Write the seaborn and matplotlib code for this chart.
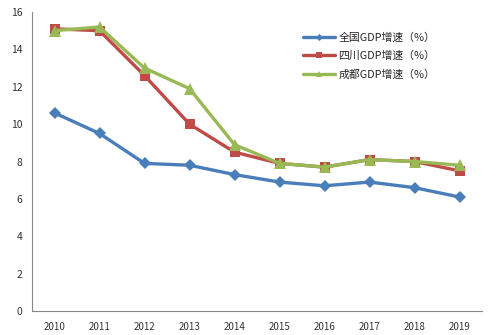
import matplotlib
matplotlib.use("Agg")
import matplotlib.pyplot as plt
import seaborn as sns
import pandas as pd
import numpy as np

years = ["2010", "2011", "2012", "2013", "2014", "2015", "2016", "2017", "2018", "2019"]
national = [10.6, 9.5, 7.9, 7.8, 7.3, 6.9, 6.7, 6.9, 6.6, 6.1]
sichuan = [15.1, 15.0, 12.6, 10.0, 8.5, 7.9, 7.7, 8.1, 8.0, 7.5]
chengdu = [15.0, 15.2, 13.0, 11.9, 8.9, 7.9, 7.7, 8.1, 8.0, 7.8]
series_names = ["全国GDP增速（%）", "四川GDP增速（%）", "成都GDP增速（%）"]
colors = ["#4a7ebb", "#be4b48", "#98b954"]
markers = ["D", "s", "^"]

sns.set_style("white")
plt.rcParams["font.family"] = ["Noto Sans CJK SC", "DejaVu Sans"]

idx = list(range(len(years)))
df = pd.DataFrame({
    "idx": idx * 3,
    "value": national + sichuan + chengdu,
    "series": [series_names[0]] * 10 + [series_names[1]] * 10 + [series_names[2]] * 10,
})

fig = plt.figure(figsize=(5.03, 3.35), dpi=100)
ax = fig.add_axes([32 / 503, 24 / 335, 450 / 503, 299 / 335])

for name, c, m, ms in zip(series_names, colors, markers, [6, 7, 8]):
    sub = df[df["series"] == name]
    sns.lineplot(data=sub, x="idx", y="value", ax=ax, color=c, marker=m,
                 markersize=ms, linewidth=2.4, markeredgewidth=0,
                 label=name, zorder=3)

ax.set_xlim(-0.5, len(years) - 0.5)
ax.set_ylim(0, 16)
ax.set_yticks(np.arange(0, 17, 2))
ax.set_yticklabels([str(v) for v in range(0, 17, 2)], fontsize=7.5, color="#333333")
ax.set_xticks(idx)
ax.set_xticklabels(years, fontsize=7, color="#333333")
ax.set_xticks(np.arange(-0.5, len(years), 1), minor=True)
ax.tick_params(axis="x", which="major", length=0, pad=8)
ax.tick_params(axis="x", which="minor", length=4, color="#868686", width=0.8)
ax.tick_params(axis="y", which="major", length=4, color="#868686", width=0.8, direction="out", pad=3)
ax.set_xlabel("")
ax.set_ylabel("")
for s in ["top", "right"]:
    ax.spines[s].set_visible(False)
for s in ["left", "bottom"]:
    ax.spines[s].set_color("#868686")
    ax.spines[s].set_linewidth(0.8)

ax.legend(loc="upper left", bbox_to_anchor=(0.58, 0.965), frameon=False,
          fontsize=7.8, handlelength=3.0, labelspacing=0.75, handletextpad=0.3,
          markerscale=0.6)

fig.savefig("out.png", dpi=100)
